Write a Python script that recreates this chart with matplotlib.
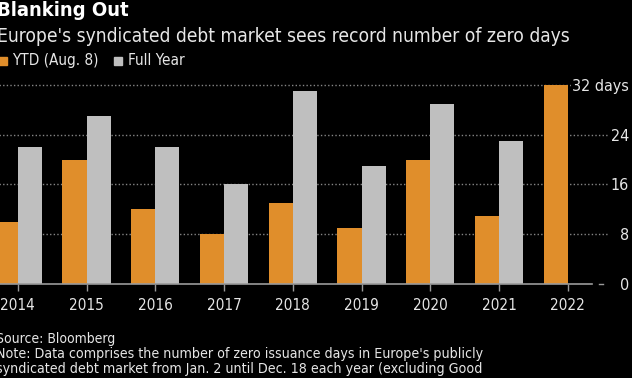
import matplotlib
matplotlib.use("Agg")
import matplotlib.pyplot as plt

# data
years = [2014, 2015, 2016, 2017, 2018, 2019, 2020, 2021, 2022]
ytd = [10, 20, 12, 8, 13, 9, 20, 11, 32]
full_year = [22, 27, 22, 16, 31, 19, 29, 23]
yticks = [0, 8, 16, 24, 32]
ytick_labels = ["0", "8", "16", "24", "32 days"]

plt.rcParams['font.family'] = ['DejaVu Sans']
plt.rcParams['font.stretch'] = 'condensed'

orange = "#e08e2b"
grey = "#bfbfbf"
txt = "#e6e6e6"

W, H = 632, 378
fig = plt.figure(figsize=(W / 100, H / 100), dpi=100, facecolor="black")

# axes placed in pixel terms, left edge runs off the picture
ax = fig.add_axes([-20 / W, (H - 284) / H, 628 / W, 204 / H], facecolor="black")
ax.set_xlim(2013.45, 2022.586)
ax.set_ylim(0, 32.8)

bw = 0.35
ax.bar([y - bw / 2 for y in years], ytd, width=bw, color=orange, zorder=3)
ax.bar([y + bw / 2 for y in years[:len(full_year)]], full_year, width=bw, color=grey, zorder=3)

for v in yticks[1:]:
    ax.axhline(v, color="#858585", lw=1, ls=(0, (1, 1.6)), zorder=1)
ax.plot([2013.45, 2022.35], [0, 0], color="#9a9a9a", lw=1.2, zorder=4, clip_on=False)
ax.plot([2022.46, 2022.52], [0, 0], color="#9a9a9a", lw=1, zorder=4, clip_on=False)

for s in ax.spines.values():
    s.set_visible(False)

ax.set_xticks(years)
ax.set_xticklabels([str(y) for y in years])
ax.tick_params(axis="x", length=5, width=1, color="#9a9a9a", labelcolor=txt,
               labelsize=11, pad=5)

ax.yaxis.tick_right()
ax.set_yticks(yticks)
ax.set_yticklabels(ytick_labels)
ax.tick_params(axis="y", length=0, labelcolor=txt, labelsize=11.5, pad=15)
for lab in ax.get_yticklabels():
    lab.set_ha("right")
    lab.set_bbox(dict(facecolor="black", edgecolor="none", pad=1))

def px(x, y):
    return x / W, 1 - y / H

fig.text(*px(-3, 16), "Blanking Out", color="white", fontsize=14.5, fontweight="bold",
         va="baseline", ha="left")
fig.text(*px(-3, 42), "Europe's syndicated debt market sees record number of zero days",
         color=txt, fontsize=13.8, va="baseline", ha="left")

# legend
fig.patches.append(plt.Rectangle(px(-1, 65), 8 / W, 8 / H, transform=fig.transFigure,
                                 color=orange))
fig.text(*px(12, 65), "YTD (Aug. 8)", color=txt, fontsize=11, va="baseline")
fig.patches.append(plt.Rectangle(px(114, 65), 8 / W, 8 / H, transform=fig.transFigure,
                                 color=grey))
fig.text(*px(128, 65), "Full Year", color=txt, fontsize=11, va="baseline")

fig.text(*px(-4, 343), "Source: Bloomberg", color=txt, fontsize=10, va="baseline")
fig.text(*px(-4, 358), "Note: Data comprises the number of zero issuance days in Europe's publicly",
         color=txt, fontsize=10.2, va="baseline")
fig.text(*px(-4, 373), "syndicated debt market from Jan. 2 until Dec. 18 each year (excluding Good",
         color=txt, fontsize=10.2, va="baseline")

fig.savefig("out.png", dpi=100, facecolor="black")
